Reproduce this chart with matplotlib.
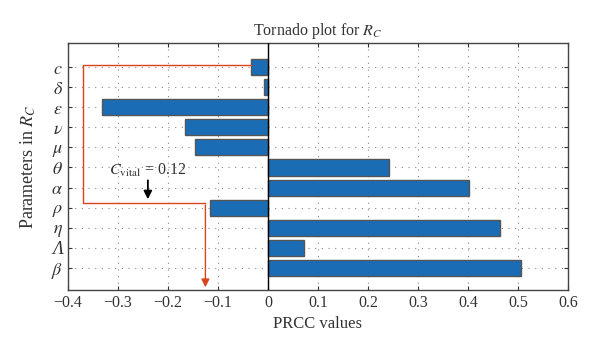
import matplotlib
matplotlib.use("Agg")
import matplotlib.pyplot as plt
import numpy as np

plt.rcParams['font.family'] = ['Liberation Serif', 'DejaVu Serif']
plt.rcParams['mathtext.fontset'] = 'stix'

# parameters, bottom to top
params = [r'$\beta$', 'Λ', r'$\eta$', r'$\rho$', r'$\alpha$', r'$\theta$',
          r'$\mu$', r'$\nu$', r'$\varepsilon$', r'$\delta$', r'$c$']
prcc = [0.505, 0.073, 0.464, -0.115, 0.402, 0.242, -0.145, -0.166, -0.331, -0.007, -0.033]
c_vital = 0.12

xticks = [-0.4, -0.3, -0.2, -0.1, 0, 0.1, 0.2, 0.3, 0.4, 0.5, 0.6]
xticklabels = ['\u22120.4', '\u22120.3', '\u22120.2', '\u22120.1', '0', '0.1', '0.2', '0.3', '0.4', '0.5', '0.6']

txt = '#333333'
fig = plt.figure(figsize=(6, 3.55), dpi=100)
ax = fig.add_axes([0.113, 0.183, 0.834, 0.696])

pos = np.arange(1, len(params) + 1)
ax.barh(pos, prcc, height=0.8, color='#1a6db5', edgecolor='#555555', linewidth=1.0, zorder=3)
ax.axvline(0, color='black', linewidth=1.0, zorder=4)

ax.set_xlim(-0.4, 0.6)
ax.set_ylim(-0.1, 12.2)
ax.set_xticks(xticks)
ax.set_xticklabels(xticklabels)
ax.set_yticks(pos)
ax.set_yticklabels(params, fontsize=13)
ax.tick_params(direction='in', top=True, right=True, colors=txt, labelsize=11.5, length=3)
for lbl in ax.get_yticklabels():
    lbl.set_color(txt)
    lbl.set_fontsize(13)
    if lbl.get_text() == 'Λ':
        lbl.set_fontstyle('italic')
ax.grid(True, linestyle=(0, (1, 5)), color='#888888', linewidth=0.8, zorder=0)
for s in ax.spines.values():
    s.set_color('#444444')
    s.set_linewidth(1.0)

ax.set_title(r'Tornado plot for $R_C$', fontsize=11.5, color=txt, pad=6)
ax.set_xlabel('PRCC values', fontsize=12, color=txt)
ax.set_ylabel(r'Parameters in $R_C$', fontsize=13, color=txt, labelpad=9)

# critical value path (red)
red = '#d9441c'
ax.plot([prcc[10], -0.37, -0.37, -c_vital - 0.005], [11.1, 11.1, 4.25, 4.25], color=red, linewidth=1.0, zorder=5)
ax.annotate('', xy=(-c_vital - 0.005, -0.1), xytext=(-c_vital - 0.005, 4.27),
            arrowprops=dict(arrowstyle='-|>', color=red, lw=1.0, mutation_scale=12), zorder=5)

# label arrow
ax.annotate('', xy=(-0.24, 4.28), xytext=(-0.24, 5.5),
            arrowprops=dict(arrowstyle='-|>', color='black', lw=1.3, mutation_scale=12), zorder=6)
ax.text(-0.24, 5.85, r'$C_{\mathrm{vital}}$ = 0.12', ha='center', va='center', fontsize=11.5, color=txt, zorder=6)

fig.savefig('out.png', dpi=100)
